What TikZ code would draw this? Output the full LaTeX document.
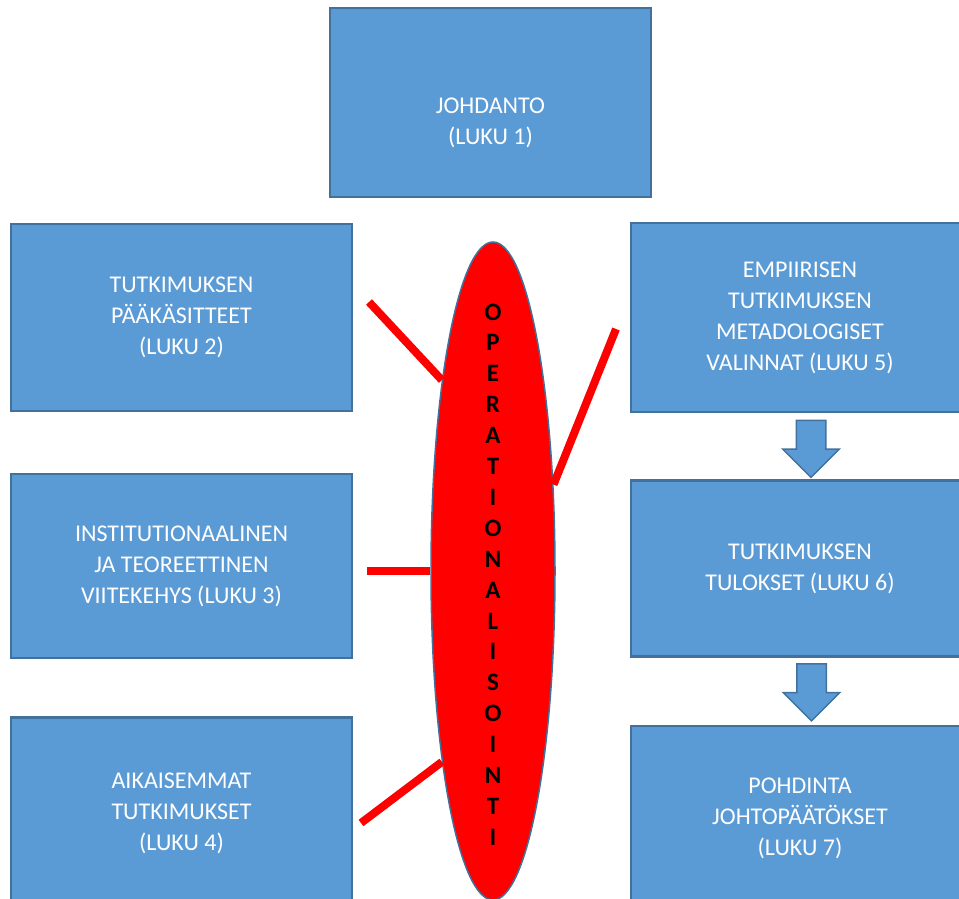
\documentclass[tikz,border=0pt]{standalone}
\usepackage{fontspec}
\setmainfont{Carlito}
\usetikzlibrary{positioning,shapes.geometric,shapes.arrows}

\definecolor{chapfill}{HTML}{5B9BD5}
\definecolor{chapline}{HTML}{41719C}

\begin{document}
\begin{tikzpicture}[x=1pt, y=-1pt,
    chap/.style={draw=chapline, line width=2.5pt, fill=chapfill, text=white, align=center,
                 inner sep=0pt, font=\fontsize{24}{31}\selectfont},
    oper/.style={ellipse, draw=chapline, line width=1.5pt, fill=red, inner sep=0pt,
                 minimum width=124pt, minimum height=658pt},
    link/.style={red, line width=8pt},
    down/.style={single arrow, draw=chapline, line width=1.5pt, fill=chapfill, rotate=-90,
                 inner xsep=0pt, inner ysep=14pt, single arrow head extend=13.5pt,
                 minimum height=57pt}]
    \path[use as bounding box, clip] (0,0) rectangle (959,899);

    % johdanto
    \node[chap, minimum width=321pt, minimum height=189pt] (joh) at (490.5,102.5) {\rule{0pt}{56pt}JOHDANTO\\(LUKU 1)};

    % vasen sarake
    \node[chap, minimum width=341pt, minimum height=187pt] (kas) at (181.5,317.5) {TUTKIMUKSEN\\PÄÄKÄSITTEET\\(LUKU 2)};
    \node[chap, minimum width=341pt, minimum height=184pt, below=60.5pt of kas] (vii) {INSTITUTIONAALINEN\\JA TEOREETTINEN\\VIITEKEHYS (LUKU 3)};
    \node[chap, minimum width=341pt, minimum height=192pt, below=57pt of vii] (aik) {AIKAISEMMAT\\TUTKIMUKSET\\(LUKU 4)};

    % oikea sarake
    \node[chap, minimum width=338pt, minimum height=189pt] (met) at (800,317.5) {EMPIIRISEN\\TUTKIMUKSEN\\METADOLOGISET\\VALINNAT (LUKU 5)};
    \node[chap, minimum width=338pt, minimum height=176pt, below=66pt of met] (tul) {TUTKIMUKSEN\\TULOKSET (LUKU 6)};
    \node[chap, minimum width=338pt, minimum height=184pt, below=67pt of tul] (poh) {POHDINTA\\JOHTOPÄÄTÖKSET\\(LUKU 7)};

    \node[down] (nu1) at (811,441.5) {};
    \node[down] (nu2) at (811.5,685) {};

    % operationalisointi
    \node[oper] (op) at (493,571) {};
    \coordinate (l1) at (369,302);
    \coordinate (l2) at (616,329);
    \coordinate (l3) at (367,571);
    \coordinate (l4) at (361,823);
    \draw[link] (l1) -- (op.105);
    \draw[link] (l2) -- (op.55);
    \draw[link] (l3) -- (op.180);
    \draw[link] (l4) -- (op.255);
    \node[align=center, inner sep=0pt, font=\fontsize{25}{30.9}\selectfont\bfseries] (optx)
        at ([yshift=-3.5pt]op.center) {O\\P\\E\\R\\A\\T\\I\\O\\N\\A\\L\\I\\S\\O\\I\\N\\T\\I};
\end{tikzpicture}
\end{document}
